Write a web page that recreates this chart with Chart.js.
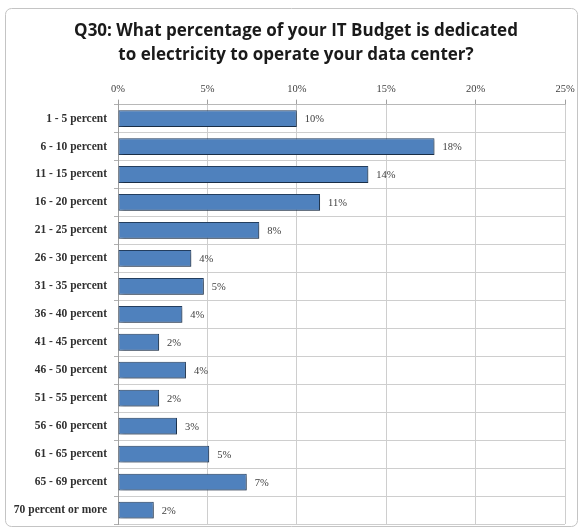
<!DOCTYPE html>
<html>
<head>
<meta charset="utf-8">
<script src="https://cdn.jsdelivr.net/npm/chart.js@4/dist/chart.umd.min.js"></script>
<style>
  html, body { margin: 0; padding: 0; background: #ffffff; }
  #wrap { width: 581px; height: 529px; position: relative; }
</style>
</head>
<body>
<div id="wrap"><canvas id="c" width="581" height="529"></canvas></div>
<script>
// Survey answer ranges (share of IT budget spent on data-center electricity)
const categories = [
  '1 - 5 percent', '6 - 10 percent', '11 - 15 percent', '16 - 20 percent',
  '21 - 25 percent', '26 - 30 percent', '31 - 35 percent', '36 - 40 percent',
  '41 - 45 percent', '46 - 50 percent', '51 - 55 percent', '56 - 60 percent',
  '61 - 65 percent', '65 - 69 percent', '70 percent or more'
];
// Share of respondents, in percent
const responses = [10.0, 17.7, 14.0, 11.3, 7.9, 4.1, 4.8, 3.6, 2.3, 3.8, 2.3, 3.3, 5.1, 7.2, 2.0];
// Axis ticks, in percent
const tickValues = [0, 5, 10, 15, 20, 25];

const titleLines = [
  'Q30: What percentage of your IT Budget is dedicated',
  'to electricity to operate your data center?'
];

const serif = '"Liberation Serif", "DejaVu Serif", serif';

// Rounded frame around the whole chart, plus the two-line heading
const framePlugin = {
  id: 'frame',
  beforeDraw(chart) {
    const ctx = chart.ctx;
    ctx.save();
    ctx.fillStyle = '#ffffff';
    ctx.fillRect(0, 0, chart.width, chart.height);
    ctx.strokeStyle = '#c4c4c4';
    ctx.lineWidth = 1;
    ctx.beginPath();
    ctx.roundRect(5.5, 8.5, 572, 518, 6);
    ctx.stroke();

    ctx.fillStyle = '#1a1a1a';
    ctx.font = 'bold 17px "Open Sans", "Liberation Sans", sans-serif';
    ctx.textAlign = 'center';
    ctx.textBaseline = 'middle';
    titleLines.forEach((line, i) => ctx.fillText(line, 296, 31 + i * 24));
    ctx.restore();
  }
};

// Soft drop shadow under the bars
const shadowPlugin = {
  id: 'barShadow',
  beforeDatasetsDraw(chart) {
    const ctx = chart.ctx;
    ctx.save();
    ctx.shadowColor = 'rgba(0,0,0,0.35)';
    ctx.shadowBlur = 3;
    ctx.shadowOffsetX = 2;
    ctx.shadowOffsetY = 2;
  },
  afterDatasetsDraw(chart) {
    chart.ctx.restore();
  }
};

// Rounded value label to the right of each bar
const valueLabelPlugin = {
  id: 'valueLabels',
  afterDatasetsDraw(chart) {
    const ctx = chart.ctx;
    const meta = chart.getDatasetMeta(0);
    ctx.save();
    ctx.font = '10.5px ' + serif;
    ctx.fillStyle = '#404040';
    ctx.textAlign = 'left';
    ctx.textBaseline = 'middle';
    meta.data.forEach((bar, i) => {
      const v = chart.data.datasets[0].data[i];
      ctx.fillText(Math.round(v) + '%', bar.x + 8, bar.y + 1);
    });
    ctx.restore();
  }
};

new Chart(document.getElementById('c'), {
  type: 'bar',
  data: {
    labels: categories,
    datasets: [{
      data: responses,
      backgroundColor: '#4f81bd',
      borderColor: '#243f60',
      borderWidth: 1,
      borderSkipped: false,
      categoryPercentage: 1,
      barPercentage: 0.6
    }]
  },
  options: {
    indexAxis: 'y',
    responsive: false,
    animation: false,
    devicePixelRatio: 1,
    layout: { padding: { left: 6, right: 16, top: 79, bottom: 5 } },
    plugins: {
      legend: { display: false },
      tooltip: { enabled: false },
      title: { display: false }
    },
    scales: {
      x: {
        position: 'top',
        min: 0,
        max: 25,
        afterBuildTicks(axis) {
          axis.ticks = tickValues.map(v => ({ value: v }));
        },
        ticks: {
          callback: v => v + '%',
          color: '#404040',
          font: { family: serif, size: 10.5 },
          padding: 4
        },
        grid: {
          color: '#cecece',
          tickLength: 5,
          tickColor: '#a0a0a0'
        },
        border: { color: '#b8b8b8' }
      },
      y: {
        afterFit(axis) {
          axis.width = 112;
          axis.paddingTop = 0;
          axis.paddingBottom = 0;
        },
        ticks: {
          color: '#303030',
          font: { family: serif, size: 11.5, weight: 'bold' },
          padding: 7
        },
        grid: {
          color: '#cecece',
          offset: true,
          tickLength: 4,
          tickColor: '#b0b0b0'
        },
        border: { color: '#a0a0a0' }
      }
    }
  },
  plugins: [framePlugin, shadowPlugin, valueLabelPlugin]
});
</script>
</body>
</html>
